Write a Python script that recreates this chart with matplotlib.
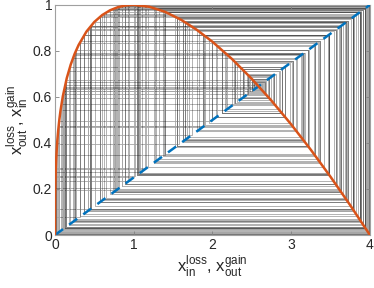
import numpy as np
import matplotlib
matplotlib.use("Agg")
import matplotlib.pyplot as plt

plt.rcParams['font.family'] = ['Liberation Sans', 'DejaVu Sans']
plt.rcParams['mathtext.fontset'] = 'custom'
plt.rcParams['mathtext.rm'] = 'Liberation Sans'

# loss curve x_out^loss(x_in^loss)
curve_x = [0, 0.0005, 0.002, 0.005, 0.01, 0.015, 0.02, 0.03, 0.04, 0.055, 0.07, 0.1,
           0.15, 0.2, 0.25, 0.3, 0.4, 0.5, 0.6, 0.7, 0.8, 0.9, 1.0, 1.2, 1.4, 1.6,
           1.8, 2.0, 2.25, 2.5, 2.75, 3.0, 3.25, 3.5, 3.75, 4.0]
curve_y = [0, 0.1058, 0.1679, 0.2277, 0.2865, 0.3276, 0.3601, 0.4112, 0.4514, 0.5001,
           0.5399, 0.6034, 0.6819, 0.7407, 0.7875, 0.8256, 0.8842, 0.9260, 0.9559,
           0.9767, 0.9902, 0.9977, 1.0, 0.9918, 0.9695, 0.9357, 0.8920, 0.8399,
           0.7644, 0.6786, 0.5838, 0.4808, 0.3703, 0.2530, 0.1295, 0]

# gain line x_out^gain(x_in^gain)
gain_in = [0, 1]
gain_out = [0, 4]

# successive values of x_in^loss along the iteration (several runs)
orbit_a = [0.8475, 3.9778, 0.0469, 1.9008, 3.4671, 1.0754, 3.9951, 0.0104, 1.1611, 3.9784,
           0.0456, 1.8837, 3.4849, 1.0413, 3.9985, 0.0032, 0.7853, 3.9545, 0.0959, 2.3827,
           2.8802, 2.1243, 3.2149, 1.545, 3.7841, 0.4486, 3.6249, 0.7683, 3.9465, 0.1127,
           2.5036, 2.7092, 2.3993, 2.8572, 2.1622, 3.1686, 1.6282, 3.7204, 0.5777, 3.8004,
           0.4153, 3.566, 0.8841, 3.9874, 0.0266, 1.5815, 3.757, 0.5037, 3.7091, 0.6004,
           3.824, 0.367, 3.4681, 1.0735, 3.9953, 0.0099, 1.1424, 3.983, 0.0359, 1.7436,
           3.6211, 0.7758, 3.9501, 0.1052, 2.4515, 2.7839, 2.281, 3.0171, 1.8937, 3.4745,
           1.0612, 3.9968, 0.0068, 1.0087, 3.9999, 0.0002, 0.3119, 3.3349, 1.3249, 3.9175,
           0.1734, 2.8451, 2.182, 3.144, 1.672, 3.6841, 0.6505, 3.8696, 0.273, 3.2237,
           1.529, 3.7956, 0.4251, 3.584, 0.8488, 3.9782, 0.0461, 1.8903, 3.4781, 1.0543,
           3.9974, 0.0055, 0.9401, 3.9967, 0.007, 1.0184, 3.9997, 0.0006, 0.4498, 3.6269,
           0.7643, 3.9445, 0.1169, 2.5316, 2.6684, 2.4626, 2.7682, 2.3061, 2.9839, 1.9505,
           3.4143, 1.1759, 3.9744, 0.0541, 1.9898, 3.3712, 1.2571, 3.947, 0.1117, 2.4968,
           2.719, 2.3839, 2.8785, 2.1271, 3.2116, 1.5509, 3.7798, 0.4573, 3.6392, 0.74,
           3.9316, 0.1439, 2.6943]
orbit_b = [2, 3.3598, 1.2785, 3.9383, 0.1299, 2.6133, 2.5467, 2.6462, 2.4967, 2.7192,
           2.3836, 2.8789, 2.1265, 3.2123, 1.5497, 3.7807, 0.4555, 3.6363, 0.7457, 3.9348,
           0.1372, 2.6564, 2.4811, 2.7417, 2.3482, 2.9273, 2.046, 3.3075, 1.3757, 3.8916,
           0.2273, 3.0699, 1.8024, 3.5659, 0.8843, 3.9874]
orbit_c = [0.37, 3.4747, 1.0608, 3.9968, 0.0068]
orbit_d = [0.1235, 2.5737, 2.6062, 2.5575, 2.6303, 2.521, 2.6839, 2.4387, 2.8021, 2.2517,
           3.0553, 1.8278, 3.5412, 0.9325, 3.9958, 0.0088, 1.1005, 3.9914, 0.0182, 1.3964,
           3.8802, 0.2511, 3.1534, 1.6554, 3.6981, 0.6225, 3.8452, 0.3234, 3.365, 1.2688,
           3.9424, 0.1214, 2.5607, 2.6254, 2.5284, 2.6731, 2.4553, 2.7785, 2.2896, 3.0057,
           1.9132]
orbit_f = [3.3, 1.3896, 3.884, 0.2431, 3.1264, 1.7032, 3.6572, 0.7042, 3.9096, 0.1899,
           2.9202, 2.0579, 3.2937, 1.4012, 3.8774, 0.2568, 3.1723, 1.6217, 3.7256, 0.5671,
           3.7887, 0.4392, 3.609, 0.7997, 3.9607, 0.0829, 2.2771, 3.0222, 1.885, 3.4835,
           1.0439, 3.9983, 0.0036, 0.8134, 3.9661, 0.0715, 2.174, 3.154, 1.6542, 3.6991,
           0.6206]

fig = plt.figure(figsize=(3.74, 2.88), dpi=100)
ax = fig.add_axes([0.147, 0.184, 0.842, 0.799])

# cobweb: vertical from gain line up/down to the loss curve, then horizontal to the gain line
for orbit in (orbit_a, orbit_b, orbit_c, orbit_d, orbit_f):
    ox = np.array(orbit)
    px = np.repeat(ox, 2)[:-1]
    py = np.repeat(ox / 4.0, 2)[1:]
    ax.plot(px, py, color='black', alpha=0.35, lw=0.6, zorder=1)

ax.plot(gain_out, gain_in, color='#0072BD', lw=1.8, dashes=(4, 3), zorder=3)
ax.plot(curve_x, curve_y, color='#D95319', lw=1.8, zorder=4)

ax.set_xlim(0, 4)
ax.set_ylim(0, 1)
ax.set_xticks([0, 1, 2, 3, 4])
ax.set_yticks([0, 0.2, 0.4, 0.6, 0.8, 1])
ax.set_yticklabels(['0', '0.2', '0.4', '0.6', '0.8', '1'])
ax.tick_params(direction='in', length=3, width=0.6, color='#808080',
               labelsize=10, labelcolor='#262626', top=True, right=True, pad=2)
for s in ax.spines.values():
    s.set_color('#a0a0a0')
    s.set_linewidth(0.8)

ax.set_xlabel(r'$\mathrm{x}_{\mathrm{in}}^{\mathrm{loss}}$, $\mathrm{x}_{\mathrm{out}}^{\mathrm{gain}}$',
              fontsize=12, color='#262626', labelpad=1)
ax.set_ylabel(r'$\mathrm{x}_{\mathrm{out}}^{\mathrm{loss}}$, $\mathrm{x}_{\mathrm{in}}^{\mathrm{gain}}$',
              fontsize=12, color='#262626', labelpad=1)

fig.savefig('out.png', dpi=100)
